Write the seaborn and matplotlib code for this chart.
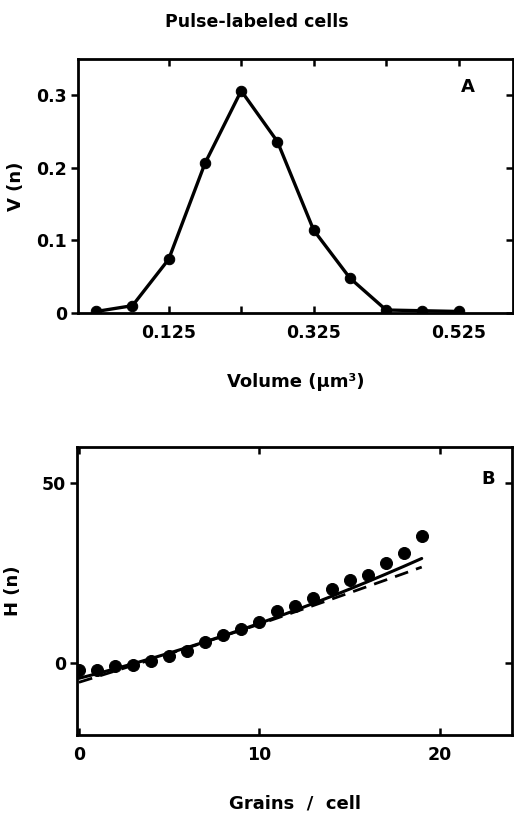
import matplotlib
matplotlib.use('Agg')
import matplotlib.pyplot as plt
import seaborn as sns
import pandas as pd

# Panel A: volume distribution
volume = [0.025, 0.075, 0.125, 0.175, 0.225, 0.275, 0.325, 0.375, 0.425, 0.475, 0.525]
v_n = [0.002, 0.010, 0.074, 0.206, 0.306, 0.236, 0.114, 0.048, 0.004, 0.003, 0.002]
vol_ticks = [0.125, 0.225, 0.325, 0.425, 0.525]
vol_ticklabels = ['0.125', '', '0.325', '', '0.525']
v_ticks = [0, 0.1, 0.2, 0.3]
v_ticklabels = ['0', '0.1', '0.2', '0.3']

# Panel B: grains per cell
grains = list(range(20))
h_obs = [-2.0, -1.9, -0.9, -0.6, 0.7, 2.1, 3.4, 5.8, 7.7, 9.5,
         11.3, 14.4, 16.0, 18.1, 20.6, 23.1, 24.4, 27.8, 30.7, 35.2]
h_fit_solid = [-4.2, -2.9, -1.55, -0.15, 1.3, 2.8, 4.35, 5.95, 7.6, 9.3,
               11.05, 12.85, 14.7, 16.6, 18.55, 20.55, 22.6, 24.7, 26.85, 29.05]
h_fit_dashed = [-5.3, -3.75, -2.18, -0.6, 0.99, 2.6, 4.22, 5.85, 7.5, 9.15,
                10.82, 12.54, 14.27, 16.01, 17.76, 19.52, 21.29, 23.07, 24.86, 26.66]
h_ticks = [0, 50]
g_ticks = [0, 10, 20]

sns.set_style('ticks')
plt.rcParams['font.family'] = ['DejaVu Sans']
plt.rcParams['font.weight'] = 'bold'
plt.rcParams['text.color'] = 'black'
plt.rcParams['axes.labelcolor'] = 'black'
plt.rcParams['axes.edgecolor'] = 'black'
plt.rcParams['xtick.color'] = 'black'
plt.rcParams['ytick.color'] = 'black'

df_a = pd.DataFrame({'volume': volume, 'v': v_n})
df_b = pd.DataFrame({'grains': grains, 'obs': h_obs, 'solid': h_fit_solid, 'dashed': h_fit_dashed})

fig = plt.figure(figsize=(5.14, 8.17), dpi=100)
ax1 = fig.add_axes([0.152, 0.617, 0.846, 0.311])
ax2 = fig.add_axes([0.150, 0.100, 0.846, 0.353])

# --- A ---
sns.lineplot(data=df_a, x='volume', y='v', ax=ax1, color='black', lw=2.4,
             marker='o', markersize=7.5, markeredgecolor='black')
ax1.set_xlim(0, 0.6)
ax1.set_ylim(0, 0.35)
ax1.set_xticks(vol_ticks)
ax1.set_xticklabels(vol_ticklabels)
ax1.set_yticks(v_ticks)
ax1.set_yticklabels(v_ticklabels)
ax1.set_xlabel('Volume (µm³)', fontsize=13, fontweight='bold', labelpad=22)
ax1.set_ylabel('V (n)', fontsize=13, fontweight='bold', labelpad=8)
ax1.text(0.88, 0.87, 'A', transform=ax1.transAxes, fontsize=13, fontweight='bold')

# --- B ---
sns.lineplot(data=df_b, x='grains', y='solid', ax=ax2, color='black', lw=2.2)
sns.lineplot(data=df_b, x='grains', y='dashed', ax=ax2, color='black', lw=2.0,
             linestyle=(0, (5, 3)))
sns.scatterplot(data=df_b, x='grains', y='obs', ax=ax2, color='black', s=75,
                edgecolor='black', zorder=5)
ax2.set_xlim(-0.1, 24)
ax2.set_ylim(-20, 60)
ax2.set_xticks(g_ticks)
ax2.set_yticks(h_ticks)
ax2.set_xlabel('Grains  /  cell', fontsize=13, fontweight='bold', labelpad=22)
ax2.set_ylabel('H (n)', fontsize=13, fontweight='bold', labelpad=14)
ax2.text(0.93, 0.87, 'B', transform=ax2.transAxes, fontsize=13, fontweight='bold')

for ax in (ax1, ax2):
    for sp in ax.spines.values():
        sp.set_visible(True)
        sp.set_linewidth(2)
        sp.set_color('black')
    ax.tick_params(axis='both', which='both', labelsize=12.5, width=1.8, length=5,
                   colors='black')
    ax.tick_params(axis='x', direction='in', top=True, bottom=True, pad=8)
    ax.tick_params(axis='y', which='both', direction='out', left=True, pad=3)
    ax.tick_params(axis='y', right=True)
    for lbl in ax.get_xticklabels() + ax.get_yticklabels():
        lbl.set_fontweight('bold')

# right ticks point inward
for ax in (ax1, ax2):
    for t in ax.yaxis.get_major_ticks():
        t.tick2line.set_marker(matplotlib.lines.TICKLEFT)

fig.text(0.5, 0.973, 'Pulse-labeled cells', ha='center', va='center',
         fontsize=12.5, fontweight='bold')

fig.savefig('out.png', dpi=100)
